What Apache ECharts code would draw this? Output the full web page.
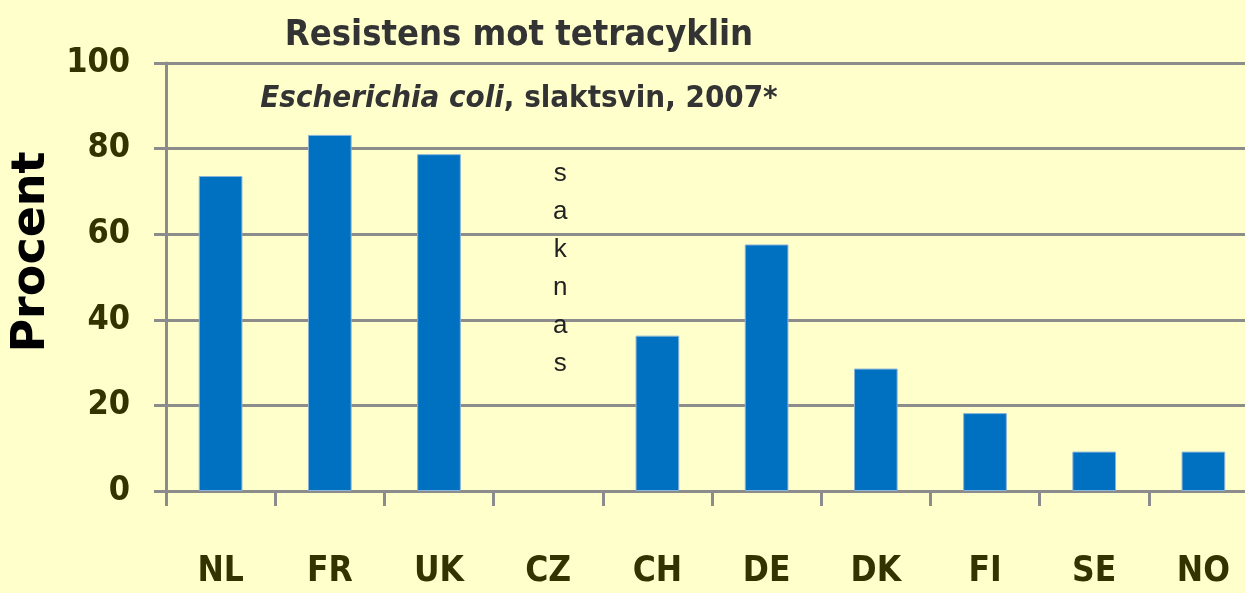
<!DOCTYPE html>
<html>
<head>
<meta charset="utf-8">
<style>
  html, body { margin: 0; padding: 0; background: #FFFFCC; }
  #chart { width: 1245px; height: 593px; }
</style>
</head>
<body>
<div id="chart"></div>
<script src="https://cdn.jsdelivr.net/npm/echarts@6/dist/echarts.min.js"></script>
<script>
    // data
    var countries = ['NL', 'FR', 'UK', 'CZ', 'CH', 'DE', 'DK', 'FI', 'SE', 'NO'];
    var resistens = [73.6, 83.2, 78.7, null, 36.3, 57.6, 28.6, 18.2, 9.2, 9.2];
    var missingCountry = 'CZ';
    var missingText = 'saknas';

    var narrow = '"DejaVu Sans Condensed", "Liberation Sans", sans-serif';
    var olive = '#333300';

    var myChart = echarts.init(document.getElementById('chart'));
    myChart.setOption({
        backgroundColor: '#FFFFCC',
        animation: false,
        title: {
            text: 'Resistens mot tetracyklin',
            subtext: '{i|Escherichia coli}{n|, slaktsvin, 2007*}',
            left: 514,
            textAlign: 'center',
            top: 13,
            itemGap: 29,
            textStyle: {
                fontFamily: narrow,
                fontWeight: 'bold',
                fontSize: 36,
                color: '#333333'
            },
            subtextStyle: {
                rich: {
                    i: { fontFamily: narrow, fontStyle: 'italic', fontWeight: 'bold', fontSize: 31, color: '#333333' },
                    n: { fontFamily: narrow, fontWeight: 'bold', fontSize: 31, color: '#333333' }
                }
            }
        },
        grid: {
            left: 166,
            width: 1092,
            top: 63,
            bottom: 102,
            outerBoundsMode: 'none',
            containLabel: false
        },
        xAxis: {
            type: 'category',
            data: countries,
            axisLine: { lineStyle: { color: '#8c8c8c', width: 3 } },
            axisTick: { show: true, length: 15, lineStyle: { color: '#8c8c8c', width: 3 } },
            axisLabel: {
                margin: 63,
                fontFamily: narrow,
                fontWeight: 'bold',
                fontSize: 35,
                color: olive
            }
        },
        yAxis: {
            type: 'value',
            min: 0,
            max: 100,
            interval: 20,
            name: 'Procent',
            nameLocation: 'middle',
            nameGap: 106,
            nameTextStyle: {
                fontFamily: '"DejaVu Sans", sans-serif',
                fontWeight: 'bold',
                fontSize: 46,
                color: '#000000',
                padding: [0, 0, 0, 50]
            },
            axisLine: { show: true, lineStyle: { color: '#8c8c8c', width: 3 } },
            axisTick: { show: true, length: 12, lineStyle: { color: '#8c8c8c', width: 3 } },
            splitLine: { lineStyle: { color: '#8c8c8c', width: 3 } },
            axisLabel: {
                margin: 36,
                fontFamily: narrow,
                fontWeight: 'bold',
                fontSize: 34,
                color: olive
            }
        },
        series: [
            {
                name: 'Resistens',
                type: 'bar',
                data: resistens,
                barWidth: '40%',
                itemStyle: { color: '#0070C0', borderColor: '#8ab4d8', borderWidth: 1 }
            }
        ]
    });

    // "saknas" written downwards over the missing country
    var pos = myChart.convertToPixel({ xAxisIndex: 0, yAxisIndex: 0 }, [missingCountry, 0]);
    var topPos = myChart.convertToPixel({ yAxisIndex: 0 }, 78.5);
    myChart.setOption({
        graphic: [{
            type: 'text',
            x: pos[0] + 12,
            y: topPos,
            style: {
                text: missingText.split('').join('\n'),
                fontFamily: '"Liberation Sans", Arial, sans-serif',
                fontSize: 26,
                lineHeight: 38,
                align: 'center',
                verticalAlign: 'top',
                fill: '#222222'
            }
        }]
    });
</script>
</body>
</html>
